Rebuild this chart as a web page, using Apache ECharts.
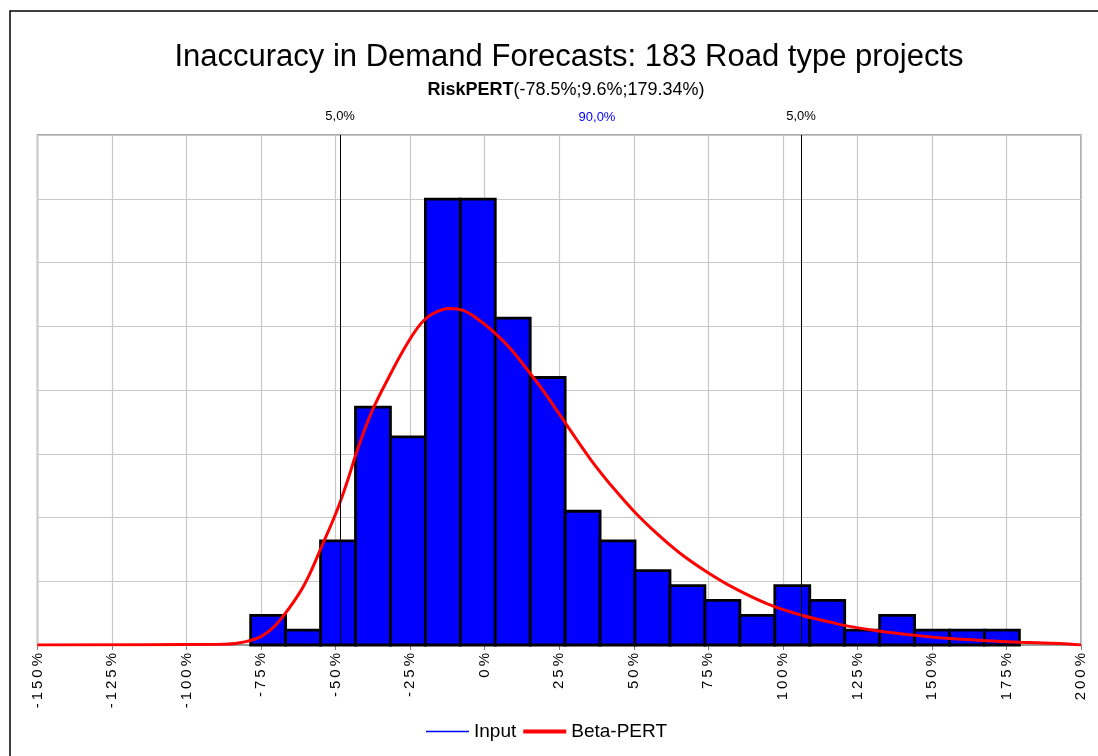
<!DOCTYPE html>
<html>
<head>
<meta charset="utf-8">
<script src="https://cdn.jsdelivr.net/npm/echarts@6/dist/echarts.min.js"></script>
<style>html,body{margin:0;padding:0;background:#fff}#c{width:1098px;height:756px}</style>
</head>
<body>
<div id="c"></div>
<script>
// PERT parameters (from subtitle)
const pertMin = -78.5, pertMode = 9.6, pertMax = 179.34;
const nProjects = 183;
// Histogram: counts per bin (22 equal bins from min to max)
const binCounts = [2,1,7,16,14,30,30,22,18,9,7,5,4,3,2,4,3,1,2,1,1,1];
// Beta-PERT curve: x (%), density (per mille per %)
const curveX = [-150,-88.8,-82.1,-75.4,-70.9,-66.9,-62.0,-58.6,-54.2,-51.3,-48.5,-45.5,-43.5,-40.5,-37.4,-33.0,-27.3,-21.7,-17.3,-11.7,-7.2,-2.7,2.9,8.5,14.1,19.6,25.2,30.8,35.3,38.7,42.0,49.8,57.7,65.5,74.4,83.4,94.6,105.7,115.8,121.4,132.6,143.7,154.9,167.2,179.5,192.9,200];
const curveY = [0,0.02,0.07,0.25,0.55,0.99,1.65,2.25,3.20,3.82,4.48,5.30,5.90,6.70,7.42,8.25,9.25,10.05,10.40,10.56,10.50,10.25,9.83,9.31,8.66,7.98,7.22,6.45,5.85,5.43,5.05,4.22,3.50,2.88,2.30,1.80,1.30,0.95,0.72,0.60,0.43,0.31,0.21,0.14,0.09,0.05,0];
// Percentile markers
const pctLines = [{x:-48.5, label:'5,0%'},{x:106.1, label:'5,0%'}];
const midLabel = '90,0%';
const xTicks = {min:-150, max:200, step:25};

const binW = (pertMax - pertMin) / binCounts.length;
const barData = binCounts.map((c,i)=>[pertMin + i*binW, pertMin + (i+1)*binW, c/(nProjects*binW)*1000]);
const curveData = curveX.map((x,i)=>[x, curveY[i]]);

const FONT = "'Liberation Sans', Arial, sans-serif";
const spaced = s => s.split('').join('\u2009');
const chart = echarts.init(document.getElementById('c'));
chart.setOption({
  animation:false,
  backgroundColor:'#fff',
  title:[
    {text:'Inaccuracy in Demand Forecasts: 183 Road type projects', left:564, top:37, textAlign:'center',
     textStyle:{fontFamily:FONT, fontSize:31, fontWeight:'normal', color:'#000'}},
    {text:'{b|RiskPERT}{n|(-78.5%;9.6%;179.34%)}', left:561, top:76, textAlign:'center',
     textStyle:{rich:{b:{fontFamily:FONT,fontSize:18,fontWeight:'bold',color:'#000'},n:{fontFamily:FONT,fontSize:18,fontWeight:'normal',color:'#000'}}}},
    {text:midLabel, left:592, top:106, textAlign:'center',
     textStyle:{fontFamily:FONT, fontSize:13, fontWeight:'normal', color:'#0000ff'}}
  ],
  graphic:[{type:'rect', shape:{x:10,y:11,width:1100,height:760}, style:{fill:'none', stroke:'#000', lineWidth:1.5}, z:-1}],
  legend:{
    bottom:10, left:421, itemGap:7, itemWidth:43, itemHeight:10,
    textStyle:{fontFamily:FONT, fontSize:19, color:'#000'},
    data:[{name:'Input', icon:'path://M0,0H44V1.6H0Z'},{name:'Beta-PERT', icon:'path://M0,0H44V4H0Z'}]
  },
  grid:{left:37.5, right:17, top:135, bottom:111, show:true, borderColor:'#909090', borderWidth:1.5, containLabel:false},
  xAxis:{type:'value', min:xTicks.min, max:xTicks.max, interval:xTicks.step,
    axisLine:{show:true, lineStyle:{color:'#909090', width:1.5}},
    axisTick:{show:true, length:5, lineStyle:{color:'#808080'}},
    axisLabel:{rotate:90, margin:8, fontFamily:FONT, fontSize:15, color:'#000', formatter:v=>spaced(v+'%')},
    splitLine:{show:true, lineStyle:{color:'#c8c8c8', width:1.2}}},
  yAxis:{type:'value', min:0, max:16, interval:2,
    axisLine:{show:false}, axisTick:{show:false}, axisLabel:{show:false},
    splitLine:{show:true, lineStyle:{color:'#c8c8c8', width:1.2}}},
  series:[
    {name:'Input', type:'custom', z:2, data:barData, color:'#0000ff',
     encode:{x:[0,1], y:2},
     renderItem:function(params, api){
       const p0 = api.coord([api.value(0), api.value(2)]);
       const p1 = api.coord([api.value(1), 0]);
       return {type:'rect', shape:{x:p0[0], y:p0[1], width:p1[0]-p0[0], height:p1[1]-p0[1]},
         style:{fill:'#0000ff', stroke:'#000', lineWidth:2.8}};
     }},
    {name:'pct', type:'line', data:[], z:3, symbol:'none',
     markLine:{silent:true, symbol:'none', animation:false,
       lineStyle:{color:'#000', width:1, type:'solid'},
       label:{show:true, position:'end', distance:12, fontFamily:FONT, fontSize:13, color:'#000', formatter:p=>p.data.lbl},
       data:pctLines.map(d=>({xAxis:d.x, lbl:d.label}))}},
    {name:'Beta-PERT', type:'line', z:4, data:curveData, symbol:'none', smooth:0.35, color:'#ff0000',
     lineStyle:{color:'#ff0000', width:3}}
  ]
});
</script>
</body>
</html>
